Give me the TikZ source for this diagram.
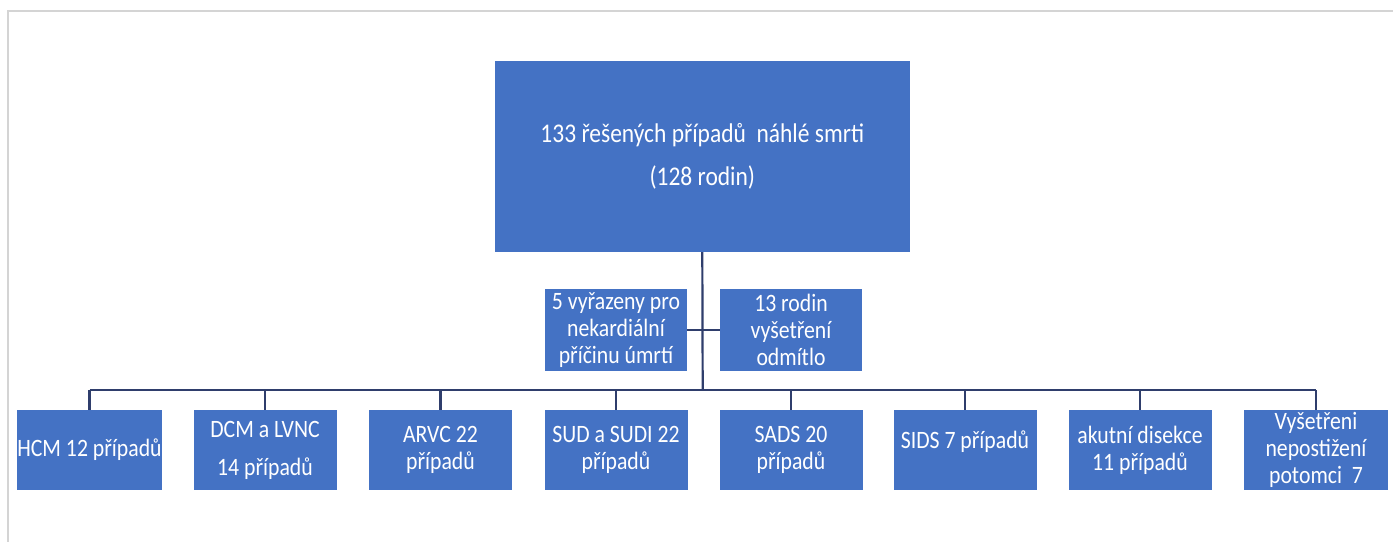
\documentclass[tikz,border=0pt]{standalone}
\usepackage{fontspec}
\setmainfont{Carlito}
\newfontfamily\narrowfont[FakeStretch=0.87]{Carlito}
\usetikzlibrary{positioning}
\definecolor{boxblue}{HTML}{4472C4}
\definecolor{linknavy}{HTML}{2F3E6C}
\definecolor{framegray}{HTML}{D4D4D4}
\tikzset{
  casebox/.style={fill=boxblue, text=white, align=center, inner sep=0pt,
    minimum width=143pt, minimum height=80pt,
    font=\narrowfont\fontsize{25}{27}\selectfont},
  link/.style={draw=linknavy, line width=2.2pt}
}

\begin{document}
\begin{tikzpicture}[x=1pt, y=-1pt]
  \useasboundingbox (0,0) rectangle (1393,542);
  % Frame
  \draw[framegray, line width=1.5pt] (1393,11) -- (8,11) -- (8,542);

  % Coordinates
  \coordinate (bus) at (702.7, 390);

  % Nodes
  \node[casebox, minimum width=415pt, minimum height=191pt,
    font=\narrowfont\fontsize{27}{43}\selectfont] (cases) at (702.3, 156.5)
    {133 řešených případů\ \ náhlé smrti\\(128 rodin)};
  \node[casebox, minimum width=142pt, minimum height=82pt] (excluded) at (616, 330)
    {5 vyřazeny pro\\nekardiální\\příčinu úmrtí};
  \node[casebox, minimum width=142pt, minimum height=82pt] (refused) at (791, 330)
    {13 rodin\\vyšetření\\odmítlo};

  \node[casebox] (hcm) at (89.5, 450) {HCM 12 případů};
  \node[casebox] (dcm) at (265, 450) {DCM a LVNC\\[11pt]14 případů};
  \node[casebox] (arvc) at (440.5, 450) {ARVC 22\\případů};
  \node[casebox] (sud) at (616, 450) {SUD a SUDI 22\\případů};
  \node[casebox] (sads) at (791, 450) {SADS 20\\případů};
  \node[casebox] (sids) at (965, 450) {SIDS 7 případů\\[-6pt]\mbox{}};
  \node[casebox] (dissect) at (1140, 450) {akutní disekce\\11 případů};
  \node[casebox, minimum width=144pt] (offspring) at (1316, 450)
    {Vyšetřeni\\nepostižení\\potomci\ \ 7};

  % Drawing
  \draw[link] (cases.south) -- (bus);
  \draw[link] (excluded.east) -- (excluded.east -| bus);
  \draw[link] (refused.west) -- (refused.west -| bus);
  \draw[link] (hcm.north |- bus) -- (offspring.north |- bus);
  \draw[link] (hcm.north) -- (hcm.north |- bus);
  \draw[link] (dcm.north) -- (dcm.north |- bus);
  \draw[link] (arvc.north) -- (arvc.north |- bus);
  \draw[link] (sud.north) -- (sud.north |- bus);
  \draw[link] (sads.north) -- (sads.north |- bus);
  \draw[link] (sids.north) -- (sids.north |- bus);
  \draw[link] (dissect.north) -- (dissect.north |- bus);
  \draw[link] (offspring.north) -- (offspring.north |- bus);
\end{tikzpicture}
\end{document}
